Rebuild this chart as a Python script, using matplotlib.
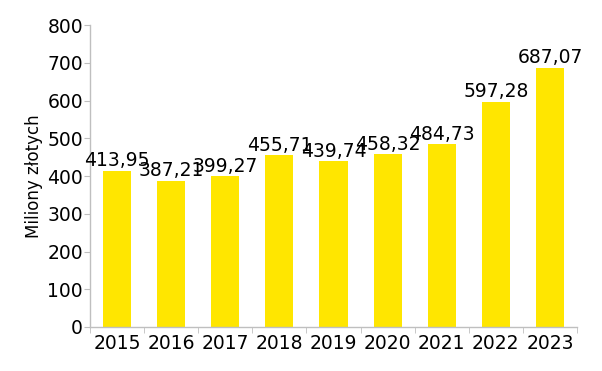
import matplotlib
matplotlib.use("Agg")
import matplotlib.pyplot as plt
import numpy as np

years = ["2015", "2016", "2017", "2018", "2019", "2020", "2021", "2022", "2023"]
values = [413.95, 387.21, 399.27, 455.71, 439.74, 458.32, 484.73, 597.28, 687.07]
value_labels = ["413,95", "387,21", "399,27", "455,71", "439,74", "458,32", "484,73", "597,28", "687,07"]
yticks = [0, 100, 200, 300, 400, 500, 600, 700, 800]

plt.rcParams['font.family'] = ['DejaVu Sans']
fig = plt.figure(figsize=(6.02, 3.71), dpi=100)
ax = fig.add_axes([0.1495, 0.1186, 0.809, 0.814])

x = np.arange(len(years))
bars = ax.bar(x, values, width=0.52, color="#FFE600", zorder=2)
for xi, v, lab in zip(x, values, value_labels):
    ax.text(xi, v + 1, lab, ha="center", va="bottom", fontsize=13.5, color="black")

ax.set_xlim(-0.5, len(years) - 0.5)
ax.set_ylim(0, 800)
ax.set_yticks(yticks)
ax.set_yticklabels([str(t) for t in yticks], fontsize=13.5)
ax.set_xticks(x)
ax.set_xticklabels(years, fontsize=13.5)
ax.set_xticks(np.arange(-0.5, len(years)), minor=True)
ax.tick_params(axis="x", which="major", length=0, pad=5)
ax.tick_params(axis="x", which="minor", length=4, color="#BFBFBF")
ax.tick_params(axis="y", length=4, color="#BFBFBF", pad=1)
for s in ["top", "right"]:
    ax.spines[s].set_visible(False)
for s in ["left", "bottom"]:
    ax.spines[s].set_color("#BFBFBF")
    ax.spines[s].set_linewidth(1)
ax.set_ylabel("Miliony złotych", fontsize=12, labelpad=3)

fig.savefig("out.png", dpi=100)
